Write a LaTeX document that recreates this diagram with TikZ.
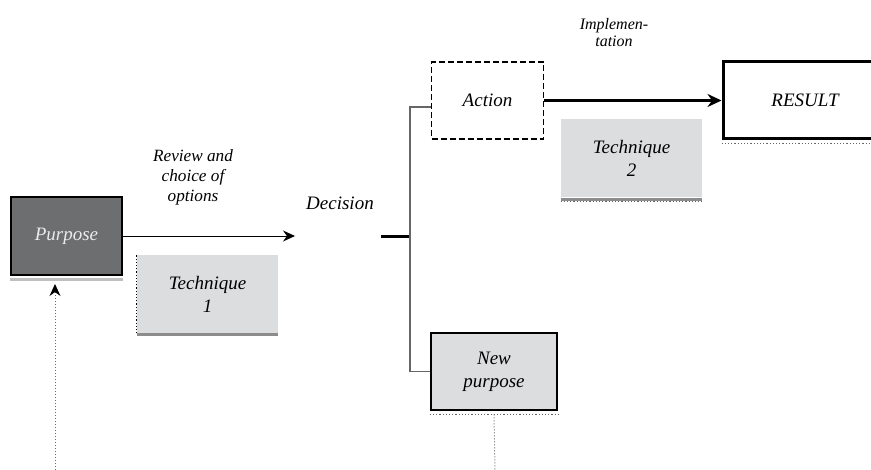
\documentclass[tikz,border=0pt]{standalone}
\usepackage{fontspec}
\setmainfont{Liberation Serif}
\usetikzlibrary{arrows.meta, positioning}
\definecolor{darkfill}{HTML}{6D6E70}
\definecolor{lightfill}{HTML}{DCDDDF}

\begin{document}
\begin{tikzpicture}[
    x=0.5pt, y=-0.5pt,
    box/.style={
        rectangle, inner sep=0pt,
        minimum width=56pt, minimum height=38.5pt,
        font=\itshape\fontsize{9.5}{11.5}\selectfont,
        align=center
    },
    tech/.style={
        box, fill=lightfill,
        minimum width=70.5pt, minimum height=39pt
    },
    lbl/.style={font=\itshape\fontsize{8.6}{10}\selectfont, align=center, inner sep=0pt},
    flow/.style={-{Stealth[length=6pt, width=5.5pt]}, line width=0.5pt},
    fork/.style={black!60, line width=0.7pt},
    fbk/.style={densely dotted, black!60, line width=0.5pt},
    base/.style={black!45, line width=1.5pt},
    dots/.style={densely dotted, black!60, line width=0.6pt}
]
\useasboundingbox (0,0) rectangle (871,470);

% === NODES ===

\node[box, fill=darkfill, draw, line width=1pt, text=black!8,
      minimum width=55.5pt, minimum height=39pt] (pur) at (66.5, 236) {Purpose};

\node[tech] (tec1) at (207.5, 294) {Technique\\1};

\node[lbl] (rev) at (193, 177) {Review and\\choice of\\options};

\node[box] (dec) at (340, 203) {Decision};

\node[box, draw, dash pattern=on 3pt off 1.5pt, line width=0.9pt] (act) at (487.5, 100.5) {Action};

\node[tech] (tec2) at (631.5, 158.5) {Technique\\2};

\node[lbl, font=\itshape\fontsize{8}{8.5}\selectfont] (impl) at (614, 33) {Implemen-\\tation};

\node[box, draw, line width=1.5pt, minimum width=82pt] (res) at (805, 100.5) {RESULT};

\node[box, draw, fill=lightfill, line width=1.3pt, minimum width=63pt] (np) at (494, 371.5) {New\\purpose};

% === BASES ===

\draw[black!25, line width=1.5pt] ([yshift=-1.6pt]pur.south west) -- ([yshift=-1.6pt]pur.south east);
\draw[base] ([yshift=-0.75pt]tec1.south west) -- ([yshift=-0.75pt]tec1.south east);
\draw[densely dotted, line width=0.6pt] (tec1.south west) -- (tec1.north west);
\draw[base] ([yshift=-0.75pt]tec2.south west) -- ([yshift=-0.75pt]tec2.south east);
\draw[dots] ([yshift=-1.8pt]tec2.south west) -- ([yshift=-1.8pt]tec2.south east);
\draw[dots] ([yshift=-1.6pt]res.south west) -- ([yshift=-1.6pt]res.south east);
\draw[dots] ([yshift=-1.4pt]np.south west) -- ([yshift=-1.4pt]np.south east);

% === CONNECTORS ===

\coordinate (revend) at (295, 236);
\coordinate (dbar) at (381, 236);
\coordinate (split) at (410, 236);
\coordinate (fbtop) at (55, 284);
\coordinate (fbbot) at (55, 470);
\coordinate (npend) at (495, 470);

% purpose -> decision
\draw[flow] (pur.east) -- (revend);

% decision split
\draw[line width=1.5pt] (dbar) -- (split);
\draw[fork] ([yshift=-3.2pt]act.west) -| (split) |- (np.west);

% action -> result
\draw[-{Stealth[length=7pt, width=6.5pt]}, line width=1.5pt] (act.east) -- (res.west);

% feedback
\draw[fbk] (fbbot) -- (fbtop);
\draw[-{Stealth[length=6pt, width=5.5pt]}, line width=0.5pt] ([yshift=-1pt]fbtop) -- (fbtop);
\draw[fbk] ([yshift=-1.5pt]np.south) -- (npend);

\end{tikzpicture}
\end{document}
